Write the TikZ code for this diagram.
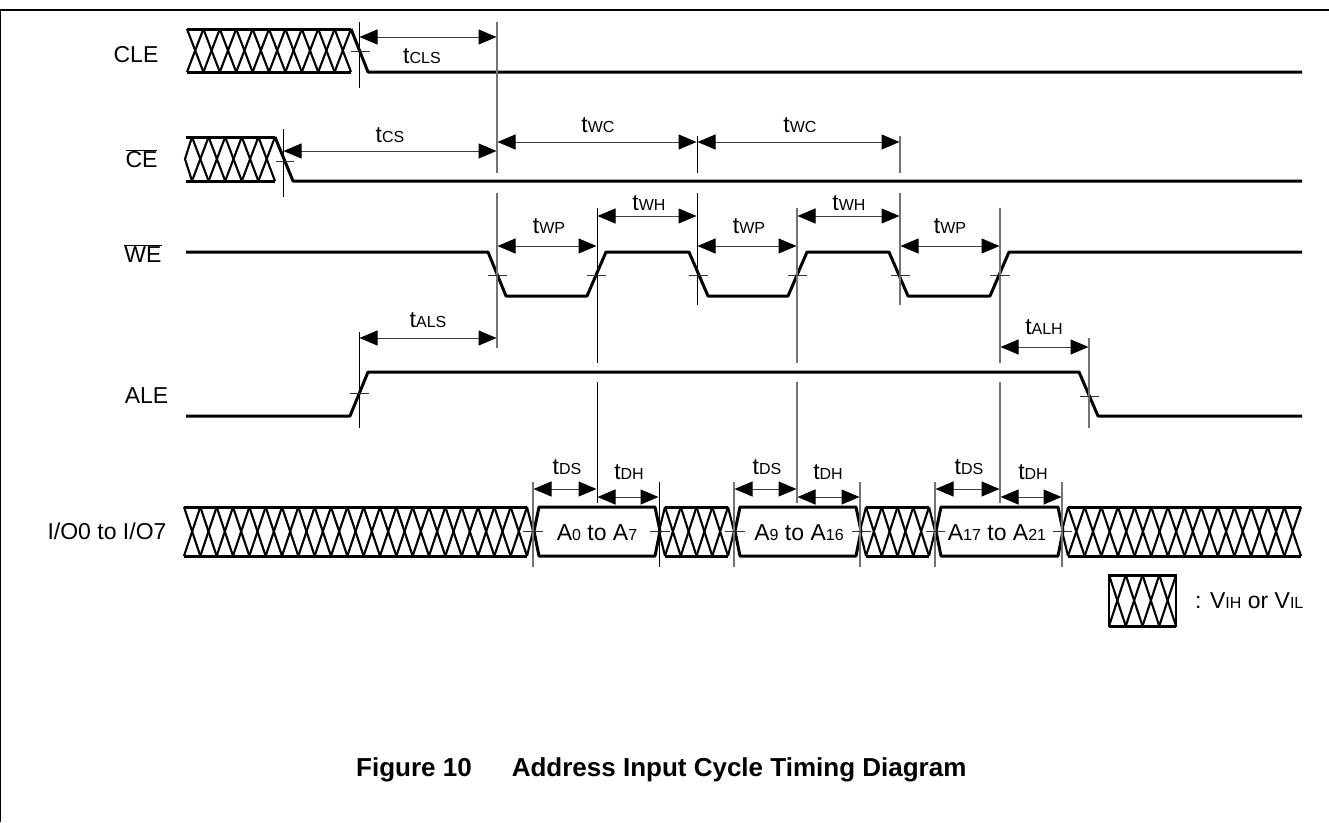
\documentclass[tikz,border=0pt]{standalone}
\usepackage{fontspec}
\setmainfont{Liberation Sans}
\usepackage{xcolor}
\colorlet{colorGuide}{black!55}
\colorlet{colorWave}{black}
\usepackage{tikz}
\usetikzlibrary{arrows.meta, positioning}
\newcommand{\tm}[1]{t{\fontsize{16}{16}\selectfont #1}}
\newcommand{\sm}[1]{{\fontsize{16}{16}\selectfont #1}}
\newcommand{\hatchrun}[5]{
\foreach \i in {1,...,#3} {
\draw [hatchline] ({#1+(\i-1)*(#2-#1)/#3},#4) -- ({#1+\i*(#2-#1)/#3},#5);
\draw [hatchline] ({#1+\i*(#2-#1)/#3},#4) -- ({#1+(\i-1)*(#2-#1)/#3},#5);
}
\draw [wave] (#1,#4) -- (#2,#4);
\draw [wave] (#1,#5) -- (#2,#5);
}
\tikzset{
wave/.style={line width=3pt, colorWave, line join=round},
hatchline/.style={line width=2.1pt, colorWave},
guide/.style={line width=1.2pt, colorGuide},
guideblack/.style={line width=0.9pt, black},
tick/.style={line width=0.9pt, black!80},
dim/.style={line width=1pt, black!75, {Triangle[length=18pt,width=15pt,black]}-{Triangle[length=18pt,width=15pt,black]}, shorten >=0.5pt, shorten <=0.5pt},
sig/.style={font=\fontsize{23}{27}\selectfont, inner sep=0pt},
lab/.style={font=\fontsize{23}{27}\selectfont, inner sep=0pt}
}
\begin{document}
\begin{tikzpicture}[x=1pt, y=-1pt]
\useasboundingbox (0,0) rectangle (1329,822);
\draw [line width=1.3pt] (0,822) -- (0,10) -- (1329,10);
\node[sig] (sCLE) at (136,55) {CLE};
\node[sig] (sCE) at (141.5,159) {$\overline{\mbox{CE}}$};
\node[sig] (sWE) at (143,254) {$\overline{\mbox{WE}}$};
\node[sig] (sALE) at (146.5,396) {ALE};
\node[sig] (sIO) at (107,531) {I/O0 to I/O7};
\hatchrun{187}{351}{10}{29}{72}
\draw [wave] (351,29) -- (368,72) -- (1302,72);
\hatchrun{192}{275}{5}{137}{181}
\draw [hatchline] (192,137) -- (185,159) -- (192,181);
\draw [wave] (186,137) -- (192,137);
\draw [wave] (186,181) -- (192,181);
\draw [wave] (275,137) -- (293,181) -- (1302,181);
\draw [wave] (186,252) -- (488,252) -- (506,296) -- (587,296) -- (606,252) -- (689,252) -- (708,296) -- (788,296) -- (807,252) -- (889,252) -- (908,296) -- (990,296) -- (1009,252) -- (1302,252);
\draw [wave] (186,416) -- (350,416) -- (368,372) -- (1079,372) -- (1098,416) -- (1302,416);
\hatchrun{184}{527}{21}{507}{556}
\draw [hatchline] (527,507) -- (533,531) -- (527,556);
\hatchrun{665}{728}{4}{507}{556}
\draw [hatchline] (665,507) -- (659,531) -- (665,556);
\draw [hatchline] (728,507) -- (734,531) -- (728,556);
\hatchrun{866}{929}{4}{507}{556}
\draw [hatchline] (866,507) -- (860,531) -- (866,556);
\draw [hatchline] (929,507) -- (935,531) -- (929,556);
\hatchrun{1068}{1301}{14}{507}{556}
\draw [hatchline] (1068,507) -- (1062,531) -- (1068,556);
\draw [wave] (534,531) -- (539,507) -- (655,507) -- (660,531) -- (655,556) -- (539,556) -- cycle;
\draw [wave] (735,531) -- (740,507) -- (856,507) -- (861,531) -- (856,556) -- (740,556) -- cycle;
\draw [wave] (936,531) -- (941,507) -- (1058,507) -- (1063,531) -- (1058,556) -- (941,556) -- cycle;
\node[lab] (dA) at (597,533) {A\sm{0} to A\sm{7}};
\node[lab] (dB) at (799,533) {A\sm{9} to A\sm{16}};
\node[lab] (dC) at (997,533) {A\sm{17} to A\sm{21}};
\hatchrun{1109}{1176}{4}{575}{626}
\draw [line width=2.6pt] (1109,575) rectangle (1176,626);
\node[lab, anchor=west] (lVI) at (1195,601) {: V\sm{IH} or V\sm{IL}};
\node[font=\bfseries\fontsize{26}{30}\selectfont, inner sep=0pt, anchor=west] (cap) at (356,770) {Figure 10\hspace{40pt}Address Input Cycle Timing Diagram};
\draw [guideblack] (359,22) -- (359,88);
\draw [guideblack] (283,129) -- (283,197);
\draw [guide] (497,22) -- (497,173);
\draw [guide] (497,193) -- (497,348);
\draw [guideblack] (697,136) -- (697,173);
\draw [guideblack] (697,193) -- (697,305);
\draw [guide] (900,136) -- (900,173);
\draw [guide] (900,193) -- (900,305);
\draw [guideblack] (597,208) -- (597,363);
\draw [guideblack] (597,382) -- (597,503);
\draw [guide] (797,208) -- (797,363);
\draw [guide] (797,382) -- (797,503);
\draw [guide] (1000,208) -- (1000,363);
\draw [guide] (1000,382) -- (1000,503);
\draw [guideblack] (359,332) -- (359,428);
\draw [guide] (1089,338) -- (1089,428);
\draw [guide] (533,482) -- (533,567);
\draw [guideblack] (659,482) -- (659,567);
\draw [guide] (734,482) -- (734,567);
\draw [guide] (860,482) -- (860,567);
\draw [guide] (935,482) -- (935,567);
\draw [guide] (1062,482) -- (1062,567);
\draw [tick] (351,51) -- (370,51);
\draw [tick] (276,161) -- (294,161);
\draw [tick] (488,275) -- (507,275);
\draw [tick] (587,275) -- (606,275);
\draw [tick] (689,275) -- (708,275);
\draw [tick] (788,275) -- (807,275);
\draw [tick] (891,275) -- (910,275);
\draw [tick] (990,275) -- (1010,275);
\draw [tick] (350,393) -- (369,393);
\draw [tick] (1080,396) -- (1099,396);
\draw [tick] (523,531) -- (543,531);
\draw [tick] (650,531) -- (670,531);
\draw [tick] (725,531) -- (745,531);
\draw [tick] (852,531) -- (871,531);
\draw [tick] (926,531) -- (945,531);
\draw [tick] (1053,531) -- (1072,531);
\coordinate (cls1) at (359,37); \coordinate (cls2) at (497,37);
\coordinate (cs1) at (283,151); \coordinate (cs2) at (497,151);
\coordinate (wc1) at (497,142); \coordinate (wc2) at (697,142); \coordinate (wc3) at (900,142);
\coordinate (wp1) at (497,246); \coordinate (wp2) at (597,246);
\coordinate (wh1) at (597,216); \coordinate (wh2) at (697,216);
\coordinate (wp3) at (697,246); \coordinate (wp4) at (797,246);
\coordinate (wh3) at (797,216); \coordinate (wh4) at (900,216);
\coordinate (wp5) at (900,246); \coordinate (wp6) at (1000,246);
\coordinate (als1) at (359,338); \coordinate (als2) at (497,338);
\coordinate (alh1) at (1000,347); \coordinate (alh2) at (1089,347);
\coordinate (ds1) at (533,489); \coordinate (ds2) at (597,489);
\coordinate (dh1) at (597,497); \coordinate (dh2) at (659,497);
\coordinate (ds3) at (734,489); \coordinate (ds4) at (797,489);
\coordinate (dh3) at (797,497); \coordinate (dh4) at (860,497);
\coordinate (ds5) at (935,489); \coordinate (ds6) at (1000,489);
\coordinate (dh5) at (1000,497); \coordinate (dh6) at (1062,497);
\draw [dim] (cls1) -- (cls2);
\draw [dim] (cs1) -- (cs2);
\draw [dim] (wc1) -- (wc2);
\draw [dim] (wc2) -- (wc3);
\draw [dim] (wp1) -- (wp2);
\draw [dim] (wh1) -- (wh2);
\draw [dim] (wp3) -- (wp4);
\draw [dim] (wh3) -- (wh4);
\draw [dim] (wp5) -- (wp6);
\draw [dim] (als1) -- (als2);
\draw [dim] (alh1) -- (alh2);
\draw [dim] (ds1) -- (ds2);
\draw [dim] (dh1) -- (dh2);
\draw [dim] (ds3) -- (ds4);
\draw [dim] (dh3) -- (dh4);
\draw [dim] (ds5) -- (ds6);
\draw [dim] (dh5) -- (dh6);
\node[lab] (lCLS) at (422,56) {\tm{CLS}};
\node[lab] (lCS) at (390,135) {\tm{CS}};
\node[lab] (lWC1) at (598,125) {\tm{WC}};
\node[lab] (lWC2) at (800,125) {\tm{WC}};
\node[lab] (lWP1) at (549,226) {\tm{WP}};
\node[lab] (lWH1) at (649,203) {\tm{WH}};
\node[lab] (lWP2) at (749,226) {\tm{WP}};
\node[lab] (lWH2) at (849,203) {\tm{WH}};
\node[lab] (lWP3) at (950,226) {\tm{WP}};
\node[lab] (lALS) at (428,320) {\tm{ALS}};
\node[lab] (lALH) at (1044,327) {\tm{ALH}};
\node[lab] (lDS1) at (567,467) {\tm{DS}};
\node[lab] (lDH1) at (629,472) {\tm{DH}};
\node[lab] (lDS2) at (767,467) {\tm{DS}};
\node[lab] (lDH2) at (828,472) {\tm{DH}};
\node[lab] (lDS3) at (969,467) {\tm{DS}};
\node[lab] (lDH3) at (1033,472) {\tm{DH}};
\end{tikzpicture}
\end{document}
